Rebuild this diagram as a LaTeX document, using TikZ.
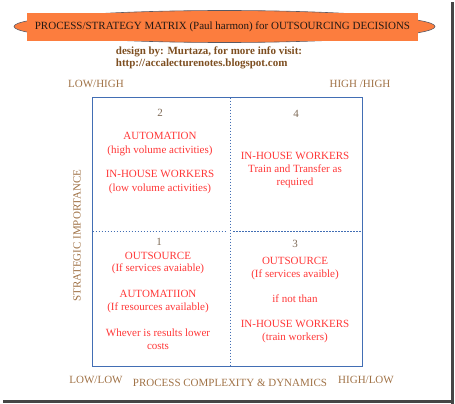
\documentclass[tikz,border=0pt]{standalone}
\usepackage{fontspec}
\setmainfont{Liberation Serif}
\usetikzlibrary{shapes.geometric}
\definecolor{bannerorange}{RGB}{252,125,62}
\definecolor{ellgray}{RGB}{90,90,100}
\definecolor{titledark}{RGB}{35,25,20}
\definecolor{designbrown}{RGB}{125,78,32}
\definecolor{axistan}{RGB}{160,114,70}
\definecolor{numbrown}{RGB}{125,105,85}
\definecolor{cellred}{RGB}{255,55,55}
\definecolor{gridblue}{RGB}{66,110,180}
\definecolor{shadowgray}{RGB}{70,70,70}
\tikzset{
  txt/.style={inner sep=0pt, font=\fontsize{11}{13.5}\selectfont},
  redtxt/.style={txt, text=cellred, align=center},
  numtxt/.style={txt, text=numbrown},
  axistxt/.style={txt, text=axistan},
  gridline/.style={draw=gridblue, line width=0.9pt},
  divline/.style={draw=gridblue, line width=0.8pt, dash pattern=on 1.6pt off 1.4pt},
}
\begin{document}
\begin{tikzpicture}[x=1pt,y=-1pt]
\useasboundingbox (0,0) rectangle (455,404);
% frame shadow
\fill[shadowgray] (451,2) rectangle (454,404);
\fill[shadowgray] (3,400) rectangle (454,403);
% banner
\node[ellipse, draw=ellgray, fill=bannerorange, line width=0.6pt, minimum width=421pt, minimum height=32pt, inner sep=0pt] (bannerell) at (224.5,26.5) {};
\node[fill=bannerorange, minimum width=391pt, minimum height=28pt, inner sep=0pt] (bannerrect) at (222.5,27) {};
\node[txt, text=titledark] (title) at (222.5,26.5) {PROCESS/STRATEGY MATRIX (Paul harmon) for OUTSOURCING DECISIONS};
% credit
\node[txt, text=designbrown, font=\fontsize{11}{12}\selectfont\bfseries, align=left] (credit) at (209,57.5) {design by: Murtaza, for more info visit:\\http://accalecturenotes.blogspot.com};
% corner labels
\node[axistxt] (lowhigh) at (96,84) {LOW/HIGH};
\node[axistxt] (highhigh) at (360,84) {HIGH /HIGH};
\node[axistxt] (lowlow) at (96,380) {LOW/LOW};
\node[axistxt] (highlow) at (366,380) {HIGH/LOW};
\node[axistxt] (xaxis) at (230,383) {PROCESS COMPLEXITY \& DYNAMICS};
\node[axistxt, rotate=90] (yaxis) at (77,235.5) {STRATEGIC IMPORTANCE};
% matrix
\coordinate (tl) at (92,97);
\coordinate (br) at (362.5,366.5);
\draw[gridline] (tl) rectangle (br);
\coordinate (vtop) at (230,97.5);
\coordinate (vbot) at (230,366);
\coordinate (hl) at (92.5,231.8);
\coordinate (hml) at (227,231.8);
\coordinate (hmr) at (233,231.8);
\coordinate (hr) at (362,231.8);
\draw[divline] (vtop) -- (vbot);
\draw[divline] (hl) -- (hml);
\draw[divline] (hmr) -- (hr);
% quadrant 2
\node[numtxt] (n2) at (160,113) {2};
\node[redtxt] (q2a) at (160,144) {AUTOMATION\\(high volume activities)};
\node[redtxt] (q2b) at (160,182) {IN-HOUSE WORKERS\\(low volume activities)};
% quadrant 4
\node[numtxt] (n4) at (296,114) {4};
\node[redtxt, font=\fontsize{11}{13}\selectfont] (q4a) at (295,170) {IN-HOUSE WORKERS\\Train and Transfer as\\required};
% quadrant 1
\node[numtxt] (n1) at (159,242) {1};
\node[redtxt, font=\fontsize{11}{12.5}\selectfont] (q1a) at (158,263) {OUTSOURCE\\(If services avaiable)};
\node[redtxt, font=\fontsize{11}{13}\selectfont] (q1b) at (158,301.5) {AUTOMATIION\\(If resources available)};
\node[redtxt, font=\fontsize{11}{13}\selectfont] (q1c) at (158,339.5) {Whever is results lower\\costs};
% quadrant 3
\node[numtxt] (n3) at (295,244) {3};
\node[redtxt, font=\fontsize{11}{13}\selectfont] (q3a) at (295,268.5) {OUTSOURCE\\(If services avaible)};
\node[redtxt] (q3b) at (295,299) {if not than};
\node[redtxt, font=\fontsize{11}{13}\selectfont] (q3c) at (295,331.5) {IN-HOUSE WORKERS\\(train workers)};
\end{tikzpicture}
\end{document}
